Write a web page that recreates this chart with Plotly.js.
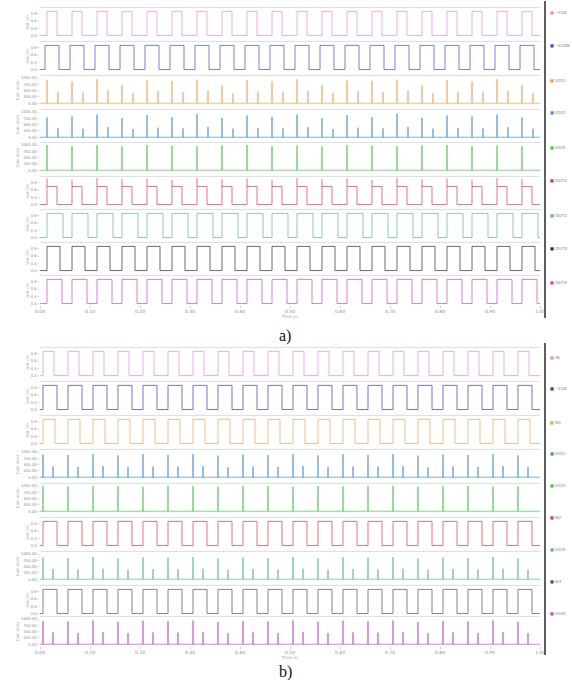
<!DOCTYPE html>
<html>
<head>
<meta charset="utf-8">
<script src="https://cdn.plot.ly/plotly-3.0.1.min.js"></script>
<style>
  html, body { margin: 0; padding: 0; background: #ffffff; }
  #chart { width: 572px; height: 680px; }
</style>
</head>
<body>
<div id="chart"></div>
<script>
// ---------- time axis (s) ----------
const timeTickVals = [0, 0.1, 0.2, 0.3, 0.4, 0.5, 0.6, 0.7, 0.8, 0.9, 1.0];
const timeTickText = ['0.00', '0.10', '0.20', '0.30', '0.40', '0.50', '0.60', '0.70', '0.80', '0.90', '1.00'];

// ---------- panel a: logic edges (s), every trace starts low ----------
const riseA = [0.014,0.064,0.114,0.164,0.214,0.264,0.314,0.364,0.414,0.464,0.514,0.564,0.614,0.664,0.714,0.764,0.814,0.864,0.914,0.964];
const riseA2 = [0.010,0.060,0.110,0.160,0.210,0.260,0.310,0.360,0.410,0.460,0.510,0.560,0.610,0.660,0.710,0.760,0.810,0.860,0.910,0.960];
const fallA1 = [0.034,0.084,0.134,0.184,0.234,0.284,0.334,0.384,0.434,0.484,0.534,0.584,0.634,0.684,0.734,0.784,0.834,0.884,0.934,0.984];
const fallA2 = [0.038,0.088,0.138,0.188,0.238,0.288,0.338,0.388,0.438,0.488,0.538,0.588,0.638,0.688,0.738,0.788,0.838,0.888,0.938,0.988];
const fallA7 = [0.046,0.096,0.146,0.196,0.246,0.296,0.346,0.396,0.446,0.496,0.546,0.596,0.646,0.696,0.746,0.796,0.846,0.896,0.946,0.996];
const fallA8 = [0.040,0.090,0.140,0.190,0.240,0.290,0.340,0.390,0.440,0.490,0.540,0.590,0.640,0.690,0.740,0.790,0.840,0.890,0.940,0.990];
const fallA9 = [0.044,0.094,0.144,0.194,0.244,0.294,0.344,0.394,0.444,0.494,0.544,0.594,0.644,0.694,0.744,0.794,0.844,0.894,0.944,0.994];

// panel a: current pulses (mA) at the clock edges
const spikeTimesA = [0.014,0.036,0.064,0.086,0.114,0.136,0.164,0.186,0.214,0.236,0.264,0.286,0.314,0.336,0.364,0.386,0.414,0.436,0.464,0.486,0.514,0.536,0.564,0.586,0.614,0.636,0.664,0.686,0.714,0.736,0.764,0.786,0.814,0.836,0.864,0.886,0.914,0.936,0.964,0.986];
const peakA3 = [930,460,860,420,950,510,720,400,910,470,880,440,940,500,700,390,920,460,870,430,950,480,730,410,900,470,890,440,940,500,710,400,920,460,860,430,950,490,720,410];
const peakA4 = [780,360,820,340,900,400,760,330,880,380,800,350,920,410,770,340,860,370,810,350,900,400,760,330,870,380,800,350,930,410,770,340,860,370,820,350,900,400,780,340];
const peakA5 = [1000,960,990,940,1000,970,950,990,1000,960,980,940,1000,970,950,990,1000,960,980,950];
// overshoot on the rising edges of the red output (V)
const overshootA6 = [1.08,1.02,1.10,1.05,1.08,1.03,1.10,1.04,1.08,1.02,1.10,1.05,1.08,1.03,1.10,1.04,1.08,1.02,1.10,1.05];

// ---------- panel b ----------
const riseB = [0.006,0.056,0.106,0.156,0.206,0.256,0.306,0.356,0.406,0.456,0.506,0.556,0.606,0.656,0.706,0.756,0.806,0.856,0.906,0.956];
const fallB1 = [0.028,0.078,0.128,0.178,0.228,0.278,0.328,0.378,0.428,0.478,0.528,0.578,0.628,0.678,0.728,0.778,0.828,0.878,0.928,0.978];
const fallB2 = [0.034,0.084,0.134,0.184,0.234,0.284,0.334,0.384,0.434,0.484,0.534,0.584,0.634,0.684,0.734,0.784,0.834,0.884,0.934,0.984];
const fallB3 = [0.030,0.080,0.130,0.180,0.230,0.280,0.330,0.380,0.430,0.480,0.530,0.580,0.630,0.680,0.730,0.780,0.830,0.880,0.930,0.980];
const spikeTimesB = [0.006,0.026,0.056,0.076,0.106,0.126,0.156,0.176,0.206,0.226,0.256,0.276,0.306,0.326,0.356,0.376,0.406,0.426,0.456,0.476,0.506,0.526,0.556,0.576,0.606,0.626,0.656,0.676,0.706,0.726,0.756,0.776,0.806,0.826,0.856,0.876,0.906,0.926,0.956,0.976];
const peakB4 = [900,430,880,410,920,440,870,400,910,430,890,420,920,440,860,400,900,430,880,410,920,440,870,400,910,430,890,420,920,440,860,400,900,430,880,410,920,440,870,400];
const peakB5 = [1000,980,990,1000,970,1000,990,980,1000,990,970,1000,980,990,1000,970,990,1000,980,990];
const peakB7 = [860,410,840,390,880,420,830,380,870,410,850,400,880,420,820,380,860,410,840,390,880,420,830,380,870,410,850,400,880,420,820,380,860,410,840,390,880,420,830,380];
const peakB9 = [920,470,900,450,940,480,890,440,930,470,910,460,940,480,880,440,920,470,900,450,940,480,890,440,930,470,910,460,940,480,880,440,920,470,900,450,940,480,890,440];

// ---------- legend names ----------
const namesA = ['~CLK', '~CLKB', 'I(D1)', 'I(D2)', 'I(D3)', 'OUT1', 'OUT2', 'OUT3', 'OUT4'];
const namesB = ['IN', '~CLK', 'N1', 'I(D1)', 'I(D2)', 'N2', 'I(D3)', 'N3', 'I(D4)'];
const voltTitle = 'Volt (V)';
const currTitle = 'Curr (mA)';

// ---------- styling ----------
const colorsA = ['#e58ae5', '#4b4bc8', '#f2a35a', '#4d8fd6', '#4fc24f', '#e03a4a', '#5fb59a', '#333333', '#c24fc8'];
const colorsB = ['#e58ae5', '#3f3fc0', '#f2a35a', '#4d8fd6', '#4fc24f', '#e03a4a', '#5fb59a', '#555555', '#c24fc8'];

const W = 572, H = 680;
const fx = p => p / W;
const fy = p => 1 - p / H;
const rowsTopA = [8, 42, 76, 110, 143, 177, 210, 243, 276];
const rowsTopB = [348, 382, 416, 450, 484, 518, 552, 586, 617];
const rowH = 29;

// ---------- trace builders ----------
function stepXY(rises, falls, hi) {
  const x = [0], y = [0];
  for (let i = 0; i < rises.length; i++) {
    x.push(rises[i], rises[i], falls[i], falls[i]);
    y.push(0, hi, hi, 0);
  }
  x.push(1); y.push(0);
  return { x, y };
}
function spikeXY(times, peaks) {
  const x = [0], y = [0];
  for (let i = 0; i < times.length; i++) {
    x.push(times[i], times[i], times[i]);
    y.push(0, peaks[i], 0);
  }
  x.push(1); y.push(0);
  return { x, y };
}
function burstXY(times, peaks, base) {
  const x = [], y = [];
  for (let i = 0; i < times.length; i++) {
    x.push(times[i], times[i], null);
    y.push(base, peaks[i], null);
  }
  return { x, y };
}

const rowsA = [
  { kind: 'step', xy: stepXY(riseA, fallA1, 1) },
  { kind: 'step', xy: stepXY(riseA2, fallA2, 1) },
  { kind: 'spike', xy: spikeXY(spikeTimesA, peakA3) },
  { kind: 'spike', xy: spikeXY(spikeTimesA, peakA4) },
  { kind: 'spike', xy: spikeXY(riseA, peakA5) },
  { kind: 'step', xy: stepXY(riseA, fallA1, 0.75), extra: burstXY(riseA, overshootA6, 0.75) },
  { kind: 'step', xy: stepXY(riseA, fallA7, 1) },
  { kind: 'step', xy: stepXY(riseA, fallA8, 1) },
  { kind: 'step', xy: stepXY(riseA, fallA9, 1) }
];
const rowsB = [
  { kind: 'step', xy: stepXY(riseB, fallB1, 1) },
  { kind: 'step', xy: stepXY(riseB, fallB2, 1) },
  { kind: 'step', xy: stepXY(riseB, fallB3, 1) },
  { kind: 'spike', xy: spikeXY(spikeTimesB, peakB4) },
  { kind: 'spike', xy: spikeXY(riseB, peakB5) },
  { kind: 'step', xy: stepXY(riseB, fallB2, 1) },
  { kind: 'spike', xy: spikeXY(spikeTimesB, peakB7) },
  { kind: 'step', xy: stepXY(riseB, fallB2, 1) },
  { kind: 'spike', xy: spikeXY(spikeTimesB, peakB9) }
];

const traces = [];
const layout = {
  width: W, height: H,
  margin: { l: 0, r: 0, t: 0, b: 0, autoexpand: false },
  paper_bgcolor: '#ffffff', plot_bgcolor: '#ffffff',
  showlegend: false,
  font: { family: 'DejaVu Sans, sans-serif', color: '#888888' },
  shapes: [], annotations: []
};

function xAxisDef(anchor) {
  return {
    domain: [fx(40), fx(540)], anchor: anchor, range: [0, 1],
    tickmode: 'array', tickvals: timeTickVals, ticktext: timeTickText,
    tickfont: { size: 4.5, color: '#8a8a8a' },
    ticks: 'outside', ticklen: 1.5, tickcolor: '#cccccc',
    showgrid: false, zeroline: false, showline: false, automargin: false,
    title: { text: 'Time (s)', font: { size: 4, color: '#9aa6bb' }, standoff: 0 }
  };
}
layout.xaxis = xAxisDef('y9');
layout.xaxis2 = xAxisDef('y18');

function addPanel(rows, tops, colors, names, offset, xName, legendTops) {
  rows.forEach((row, i) => {
    const n = offset + i + 1;
    const yName = n === 1 ? 'y' : 'y' + n;
    const axKey = n === 1 ? 'yaxis' : 'yaxis' + n;
    const top = tops[i];
    const spike = row.kind === 'spike';
    layout[axKey] = {
      domain: [fy(top + rowH), fy(top)], anchor: xName,
      range: spike ? [-70, 1080] : [-0.06, 1.14],
      tickmode: 'array',
      tickvals: spike ? [0, 250, 500, 750, 1000] : [0, 0.3, 0.6, 0.9],
      tickformat: spike ? '.2f' : '.1f',
      tickfont: { size: 3.8, color: '#8a8a8a' },
      ticks: 'outside', ticklen: 1.5, tickcolor: '#cccccc',
      showgrid: false, zeroline: false, showline: false, automargin: false,
      title: { text: spike ? currTitle : voltTitle, font: { size: 4, color: '#9aa6c4' }, standoff: 1 }
    };
    traces.push({
      type: 'scatter', mode: 'lines', x: row.xy.x, y: row.xy.y,
      xaxis: xName, yaxis: yName, name: names[i], opacity: 0.8,
      line: { color: colors[i], width: 0.9 }, hoverinfo: 'skip'
    });
    if (row.extra) {
      traces.push({
        type: 'scatter', mode: 'lines', x: row.extra.x, y: row.extra.y,
        xaxis: xName, yaxis: yName, name: names[i], connectgaps: false, opacity: 0.8,
        line: { color: colors[i], width: 0.9 }, hoverinfo: 'skip'
      });
    }
    // thin rule along the top of each strip
    layout.shapes.push({
      type: 'line', xref: xName + ' domain', yref: yName + ' domain',
      x0: 0, x1: 1, y0: 1.02, y1: 1.02,
      line: { color: '#d6d6d6', width: 0.8 }
    });
    // legend entry on the right of the divider
    layout.annotations.push({
      xref: 'paper', yref: 'paper', x: fx(548), y: fy(legendTops[i]),
      xanchor: 'left', yanchor: 'middle', showarrow: false,
      text: '<span style="color:' + colors[i] + '">\u25A0</span> ' + names[i],
      font: { size: 4.2, color: '#777777' }
    });
  });
}

addPanel(rowsA, rowsTopA, colorsA, namesA, 0, 'x', [12, 46, 80, 113, 147, 181, 215, 248, 282]);
addPanel(rowsB, rowsTopB, colorsB, namesB, 9, 'x2', [357, 388, 422, 453, 485, 517, 549, 581, 613]);

// dark dividers between plot area and legend
layout.shapes.push(
  { type: 'line', xref: 'paper', yref: 'paper', x0: fx(545), x1: fx(545), y0: fy(318), y1: fy(1),
    line: { color: '#5e5e5e', width: 2 } },
  { type: 'line', xref: 'paper', yref: 'paper', x0: fx(545), x1: fx(545), y0: fy(655), y1: fy(343),
    line: { color: '#5e5e5e', width: 2 } }
);

// panel captions
layout.annotations.push(
  { xref: 'paper', yref: 'paper', x: fx(285), y: fy(336), xanchor: 'center', yanchor: 'middle',
    showarrow: false, text: 'a)', font: { family: 'Liberation Serif, Times New Roman, serif', size: 16, color: '#111111' } },
  { xref: 'paper', yref: 'paper', x: fx(285), y: fy(672), xanchor: 'center', yanchor: 'middle',
    showarrow: false, text: 'b)', font: { family: 'Liberation Serif, Times New Roman, serif', size: 16, color: '#111111' } }
);

Plotly.newPlot('chart', traces, layout, { staticPlot: true, displayModeBar: false });
</script>
</body>
</html>
